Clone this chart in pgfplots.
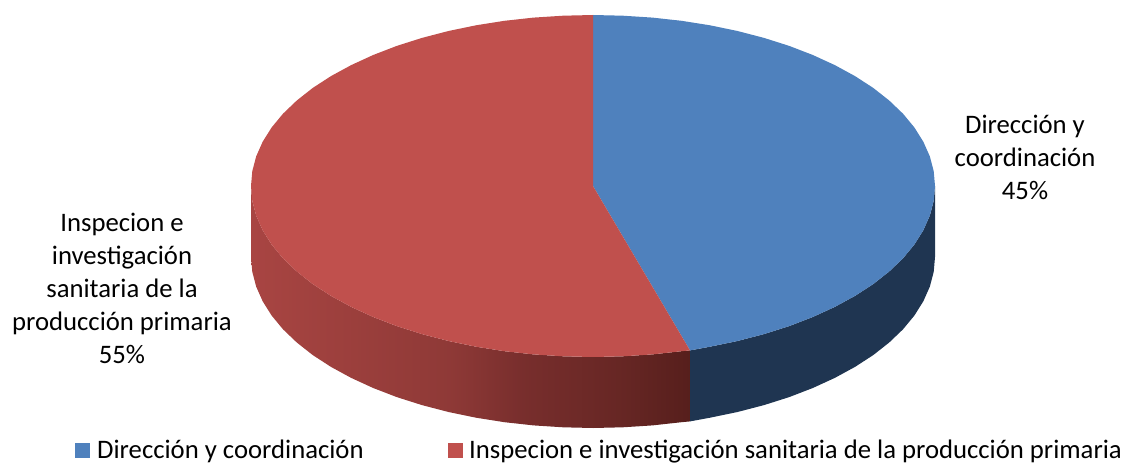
\documentclass[border=0pt]{standalone}
\usepackage{pgfplots}
\pgfplotsset{compat=1.18}
\usepackage{fontspec}
\setmainfont{Carlito}
\definecolor{bluetop}{HTML}{4F81BD}
\definecolor{redtop}{HTML}{C0504D}
\definecolor{blueside}{HTML}{1F3551}
\pgfdeclarehorizontalshading{redside}{100bp}{
  rgb(0bp)=(0.66,0.27,0.26);
  rgb(25bp)=(0.66,0.27,0.26);
  rgb(47.5bp)=(0.56,0.225,0.215);
  rgb(56bp)=(0.47,0.18,0.175);
  rgb(67.5bp)=(0.40,0.15,0.14);
  rgb(75bp)=(0.34,0.12,0.11);
  rgb(100bp)=(0.34,0.12,0.11)}
\begin{document}
\begin{tikzpicture}
\begin{axis}[
  width=1126pt, height=462pt, scale only axis,
  xmin=0, xmax=1126, ymin=0, ymax=462, y dir=reverse,
  hide axis, clip=false, no markers,
  every axis plot/.append style={draw=none, line width=0pt},
  font=\fontsize{26.7}{33}\selectfont
]
\path (axis cs:0,0) rectangle (axis cs:1126,462);
% side of the red slice
\addplot[shading=redside] coordinates {
 (251.0,186) (252.3,200.9) (256.2,215.7) (262.7,230.3) (271.6,244.5) (283.0,258.3)
 (296.8,271.5) (312.8,284.1) (331.0,295.9) (351.2,306.9) (373.2,317.0) (396.8,326.1)
 (422.0,334.1) (448.5,341.0) (476.0,346.7) (504.5,351.2) (533.6,354.4) (563.2,356.3)
 (593.0,357) (622.8,356.3) (652.4,354.4) (681.5,351.2) (690,350.4)
 (690,421.4) (681.5,422.2) (652.4,425.4) (622.8,427.3) (593.0,428) (563.2,427.3)
 (533.6,425.4) (504.5,422.2) (476.0,417.7) (448.5,412.0) (422.0,405.1) (396.8,397.1)
 (373.2,388.0) (351.2,377.9) (331.0,366.9) (312.8,355.1) (296.8,342.5) (283.0,329.3)
 (271.6,315.5) (262.7,301.3) (256.2,286.7) (252.3,271.9) (251.0,257)
} -- cycle;
% side of the blue slice
\addplot[fill=blueside] coordinates {
 (690,350.4) (710.0,346.7) (737.5,341.0) (764.0,334.1) (789.2,326.1) (812.8,317.0)
 (834.8,306.9) (855.0,295.9) (873.2,284.1) (889.2,271.5) (903.0,258.3) (914.4,244.5)
 (923.3,230.3) (929.8,215.7) (933.7,200.9) (935.0,186)
 (935.0,257) (933.7,271.9) (929.8,286.7) (923.3,301.3) (914.4,315.5) (903.0,329.3)
 (889.2,342.5) (873.2,355.1) (855.0,366.9) (834.8,377.9) (812.8,388.0) (789.2,397.1)
 (764.0,405.1) (737.5,412.0) (710.0,417.7) (690,421.4)
} -- cycle;
% top of the blue slice (45%)
\addplot[fill=bluetop] coordinates {
 (593,186) (593.0,15) (622.8,15.7) (652.4,17.6) (681.5,20.8) (710.0,25.3) (737.5,31.0)
 (764.0,37.9) (789.2,45.9) (812.8,55.0) (834.8,65.1) (855.0,76.1) (873.2,87.9)
 (889.2,100.5) (903.0,113.7) (914.4,127.5) (923.3,141.7) (929.8,156.3) (933.7,171.1)
 (935.0,186) (933.7,200.9) (929.8,215.7) (923.3,230.3) (914.4,244.5) (903.0,258.3)
 (889.2,271.5) (873.2,284.1) (855.0,295.9) (834.8,306.9) (812.8,317.0) (789.2,326.1)
 (764.0,334.1) (737.5,341.0) (710.0,346.7) (690,350.4)
} -- cycle;
% top of the red slice (55%)
\addplot[fill=redtop] coordinates {
 (593,186) (690,350.4) (681.5,351.2) (652.4,354.4) (622.8,356.3) (593.0,357) (563.2,356.3)
 (533.6,354.4) (504.5,351.2) (476.0,346.7) (448.5,341.0) (422.0,334.1) (396.8,326.1)
 (373.2,317.0) (351.2,306.9) (331.0,295.9) (312.8,284.1) (296.8,271.5) (283.0,258.3)
 (271.6,244.5) (262.7,230.3) (256.2,215.7) (252.3,200.9) (251.0,186) (252.3,171.1)
 (256.2,156.3) (262.7,141.7) (271.6,127.5) (283.0,113.7) (296.8,100.5) (312.8,87.9)
 (331.0,76.1) (351.2,65.1) (373.2,55.0) (396.8,45.9) (422.0,37.9) (448.5,31.0)
 (476.0,25.3) (504.5,20.8) (533.6,17.6) (563.2,15.7) (593.0,15)
} -- cycle;
% legend swatches
\addplot[fill=bluetop] coordinates {(75,443) (90,443) (90,458) (75,458)} -- cycle;
\addplot[fill=redtop] coordinates {(448,443) (463,443) (463,458) (448,458)} -- cycle;
% labels
\node[align=center, inner sep=0pt, text=black] at (axis cs:1025,157) {Dirección y\\coordinación\\45\%};
\node[align=center, inner sep=0pt, text=black] at (axis cs:122,288) {Inspecion e\\investigación\\sanitaria de la\\producción primaria\\55\%};
\node[anchor=base west, inner sep=0pt, text=black] at (axis cs:97,458) {Dirección y coordinación};
\node[anchor=base west, inner sep=0pt, text=black] at (axis cs:469,458) {Inspecion e investigación sanitaria de la producción primaria};
\end{axis}
\end{tikzpicture}
\end{document}
